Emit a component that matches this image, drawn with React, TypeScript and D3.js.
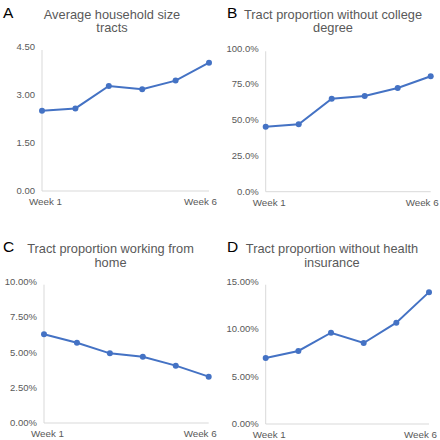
import React from "react";
import * as d3 from "d3";

const weeks = ["Week 1", "Week 2", "Week 3", "Week 4", "Week 5", "Week 6"];
const householdSize = [2.51, 2.58, 3.28, 3.18, 3.45, 4.01];
const noCollege = [0.453, 0.47, 0.649, 0.667, 0.723, 0.805];
const workFromHome = [0.0628, 0.0568, 0.0493, 0.0469, 0.0406, 0.0328];
const noInsurance = [0.0696, 0.077, 0.0962, 0.0854, 0.1068, 0.139];

const ticksA = [0, 1.5, 3, 4.5];
const ticksB = [0, 0.25, 0.5, 0.75, 1];
const ticksC = [0, 0.025, 0.05, 0.075, 0.1];
const ticksD = [0, 0.05, 0.1, 0.15];

const panels = [
  { letter: "A", title: ["Average household size", "tracts"], values: householdSize, ticks: ticksA, fmt: d3.format(".2f"),
    ox: 0, oy: 0, x0: 42, x1: 209, yTop: 47, yBot: 191, titleX: 112, titleY: 18.5, letterX: 3, letterY: 17.5 },
  { letter: "B", title: ["Tract proportion without college", "degree"], values: noCollege, ticks: ticksB, fmt: d3.format(".1%"),
    ox: 220, oy: 0, x0: 45.7, x1: 210.7, yTop: 48.3, yBot: 191.7, titleX: 113, titleY: 18.5, letterX: 7, letterY: 17.5 },
  { letter: "C", title: ["Tract proportion working from", "home"], values: workFromHome, ticks: ticksC, fmt: d3.format(".2%"),
    ox: 0, oy: 220, x0: 44, x1: 208.7, yTop: 61.7, yBot: 203, titleX: 110.5, titleY: 33, letterX: 3, letterY: 31.5 },
  { letter: "D", title: ["Tract proportion without health", "insurance"], values: noInsurance, ticks: ticksD, fmt: d3.format(".2%"),
    ox: 220, oy: 220, x0: 45.7, x1: 209, yTop: 61.7, yBot: 204, titleX: 112, titleY: 33, letterX: 7, letterY: 31.5 },
];

const FONT = "'Liberation Sans', Arial, sans-serif";
const BLUE = "#4472C4";
const GREY = "#595959";
const AXIS = "#d9d9d9";

function Panel({ p }: { p: (typeof panels)[number] }) {
  const x = d3.scalePoint<string>().domain(weeks).range([p.x0, p.x1]);
  const maxT = p.ticks[p.ticks.length - 1];
  const y = d3.scaleLinear().domain([0, maxT]).range([p.yBot, p.yTop]);
  const line = d3.line<number>().x((_, i) => x(weeks[i])!).y((v) => y(v));
  return (
    <g transform={`translate(${p.ox},${p.oy})`}>
      <text x={p.letterX} y={p.letterY} fontSize={15.5} fontFamily={FONT} fill="#000">{p.letter}</text>
      {p.title.map((t, i) => (
        <text key={i} x={p.titleX} y={p.titleY + i * 13.5} textAnchor="middle" fontSize={12.8} fontFamily={FONT} fill={GREY}>{t}</text>
      ))}
      <line x1={p.x0} x2={p.x0} y1={y(maxT) + 3} y2={p.yBot} stroke={AXIS} strokeWidth={1} />
      <line x1={p.x0} x2={p.x1} y1={p.yBot} y2={p.yBot} stroke={AXIS} strokeWidth={1} />
      {p.ticks.map((t) => (
        <text key={t} x={p.x0 - 7} y={y(t)} dy="0.35em" textAnchor="end" fontSize={9.5} fontFamily={FONT} fill={GREY}>{p.fmt(t)}</text>
      ))}
      <text x={p.x0 - 13} y={p.yBot + 14} textAnchor="start" fontSize={9.8} fontFamily={FONT} fill={GREY}>{weeks[0]}</text>
      <text x={p.x1 + 8} y={p.yBot + 14} textAnchor="end" fontSize={9.8} fontFamily={FONT} fill={GREY}>{weeks[5]}</text>
      <path d={line(p.values)!} fill="none" stroke={BLUE} strokeWidth={2} />
      {p.values.map((v, i) => (
        <circle key={i} cx={x(weeks[i])} cy={y(v)} r={3} fill={BLUE} />
      ))}
    </g>
  );
}

export default function App() {
  return (
    <svg width={440} height={440} style={{ position: "absolute", left: 0, top: 0, background: "#fff" }}>
      <rect width={440} height={440} fill="#fff" />
      {panels.map((p) => (
        <Panel key={p.letter} p={p} />
      ))}
    </svg>
  );
}
